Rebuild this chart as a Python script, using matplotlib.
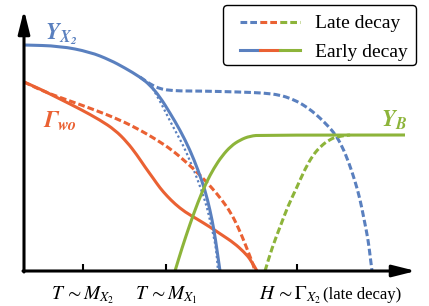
import matplotlib
matplotlib.use("Agg")
import matplotlib.pyplot as plt
from matplotlib.lines import Line2D
from matplotlib.path import Path
from matplotlib.patches import PathPatch, FancyBboxPatch
from matplotlib.transforms import IdentityTransform
from matplotlib.legend_handler import HandlerBase

plt.rcParams['mathtext.fontset'] = 'stix'
plt.rcParams['font.family'] = ['Liberation Serif', 'DejaVu Serif']

# ---- data (arbitrary schematic units: x = time/temperature axis, y = abundance) ----
blue_early_x = [0, 36, 66, 86, 101, 116, 126, 136, 146, 156, 166, 174, 181, 186, 190, 193, 196]
blue_early_y = [226, 225, 219, 211, 203, 194, 186, 174, 158, 141, 121, 101, 81, 61, 41, 21, 0]

blue_late_x = [116, 126, 134, 142, 156, 176, 216, 240, 256, 268, 278, 288, 296, 304, 311, 318, 325, 331, 336, 340, 344, 346, 348]
blue_late_y = [194, 187, 183, 181, 180, 180, 179, 178, 176, 172, 167, 160, 153, 145, 137, 125, 108, 90, 72, 52, 32, 16, 0]

blue_dot_x = [126, 132, 139, 146, 153, 160, 166, 171, 177, 183, 187, 191, 193, 194]
blue_dot_y = [187, 177, 164, 150, 137, 124, 110, 98, 82, 64, 46, 29, 14, 0]

orange_early_x = [0, 16, 36, 56, 76, 91, 103, 113, 121, 129, 136, 143, 151, 161, 173, 186, 198, 210, 220, 227, 233]
orange_early_y = [189, 182, 172, 162, 151, 141, 129, 116, 104, 93, 83, 75, 67, 59, 52, 44, 36, 28, 19, 11, 0]

orange_late_x = [0, 21, 46, 71, 96, 116, 133, 148, 162, 176, 188, 198, 207, 214, 220, 225, 229, 231]
orange_late_y = [189, 179, 170, 161, 151, 141, 131, 121, 109, 96, 83, 71, 58, 44, 30, 17, 7, 0]

green_early_x = [151, 158, 166, 174, 182, 190, 198, 207, 216, 226, 238, 381]
green_early_y = [0, 23, 47, 69, 88, 103, 115, 125, 131, 135, 136, 136]

green_late_x = [241, 248, 256, 264, 273, 281, 289, 297, 305, 314, 326]
green_late_y = [0, 23, 44, 65, 84, 102, 116, 125, 131, 135, 136]

tick_pos = [59, 142, 273]
tick_labels = [r'$T\,{\sim}M_{X_2}$', r'$T\,{\sim}M_{X_1}$', r'$H\,{\sim}\Gamma_{X_2}$']
legend_labels = ['Late decay', 'Early decay']

BLUE = '#5A80BF'
ORANGE = '#EA6133'
GREEN = '#8DB43A'
LW = 2.2
DASH = (2.2, 1.0)


def smooth_path(xs, ys):
    """Quadratic-Bezier path using the read points as control points."""
    pts = list(zip(xs, ys))
    verts = [pts[0]]
    codes = [Path.MOVETO]
    if len(pts) > 2:
        m = ((pts[0][0] + pts[1][0]) / 2, (pts[0][1] + pts[1][1]) / 2)
        verts.append(m)
        codes.append(Path.LINETO)
        for i in range(1, len(pts) - 1):
            nxt = pts[i + 1] if i + 1 == len(pts) - 1 else ((pts[i][0] + pts[i + 1][0]) / 2, (pts[i][1] + pts[i + 1][1]) / 2)
            verts += [pts[i], nxt]
            codes += [Path.CURVE3, Path.CURVE3]
    else:
        verts.append(pts[-1])
        codes.append(Path.LINETO)
    return Path(verts, codes)


def curve(ax, xs, ys, color, lw=LW, ls='-'):
    p = PathPatch(smooth_path(xs, ys), fill=False, edgecolor=color, lw=lw, linestyle=ls,
                  capstyle='butt', joinstyle='round', clip_on=False)
    ax.add_patch(p)


class TriHandler(HandlerBase):
    def __init__(self, lead=0.18):
        super().__init__()
        self.lead = lead

    def create_artists(self, legend, orig_handle, xdescent, ydescent, width, height, fontsize, trans):
        lead = self.lead * width
        seg = (width - lead) / len(orig_handle)
        y = height / 2 - ydescent
        arts = []
        for i, h in enumerate(orig_handle):
            x0 = -xdescent + lead + i * seg
            ln = Line2D([x0, x0 + seg], [y, y])
            ln.update_from(h)
            ln.set_transform(trans)
            arts.append(ln)
        return arts


fig = plt.figure(figsize=(4.29, 3.06), dpi=100)
ax = fig.add_axes([24 / 429, 35 / 306, 405 / 429, 271 / 306])
ax.set_xlim(0, 405)
ax.set_ylim(0, 271)
for s in ax.spines.values():
    s.set_visible(False)

# curves
curve(ax, blue_dot_x, blue_dot_y, BLUE, lw=1.6, ls=(0, (1, 1.2)))
curve(ax, orange_late_x, orange_late_y, ORANGE, ls=(0, DASH))
curve(ax, orange_early_x, orange_early_y, ORANGE)
curve(ax, blue_late_x, blue_late_y, BLUE, ls=(0, DASH))
curve(ax, blue_early_x, blue_early_y, BLUE)
curve(ax, green_late_x, green_late_y, GREEN, ls=(0, DASH))
curve(ax, green_early_x, green_early_y, GREEN)

# axes arrows
arrow = dict(arrowstyle='-|>,head_length=1.4,head_width=0.35', mutation_scale=10,
             lw=2.2, color='black', shrinkA=0, shrinkB=0)
ax.annotate('', xy=(392, 0), xytext=(-1, 0), arrowprops=arrow, annotation_clip=False)
ax.annotate('', xy=(0, 261), xytext=(0, -1), arrowprops=arrow, annotation_clip=False)

# ticks
ax.set_yticks([])
ax.set_xticks(tick_pos)
ax.set_xticklabels([])
ax.tick_params(axis='x', direction='in', length=5, width=1.5, color='black')
for t, lab in zip(tick_pos, tick_labels):
    ax.text(t - (7 if lab.startswith('$H') else 0), -28, lab, ha='center', va='baseline', fontsize=14)
ax.text(299, -28, '(late decay)', ha='left', va='baseline', fontsize=12)

# curve labels
ax.text(21, 232, r'$\mathbfit{Y_{X_2}}$', color=BLUE, fontsize=16.5, va='baseline')
ax.text(19, 143, r'$\mathbfit{\Gamma_{wo}}$', color=ORANGE, fontsize=16.5, va='baseline')
ax.text(357, 144, r'$\mathbfit{Y_{B}}$', color=GREEN, fontsize=16.5, va='baseline')

# legend with tri-coloured handles (frame drawn separately)
late = tuple(Line2D([], [], color=c, lw=LW, ls=(0, DASH)) for c in (BLUE, ORANGE, GREEN))
early = tuple(Line2D([], [], color=c, lw=LW) for c in (BLUE, ORANGE, GREEN))
leg = ax.legend([late, early], legend_labels, handler_map={tuple: TriHandler(0.114)},
                loc='upper right', bbox_to_anchor=((417 - 24) / 405, (271 - 5) / 271),
                borderaxespad=0, fontsize=14, handlelength=3.48, labelspacing=0.56,
                handletextpad=0.75, borderpad=0.5, frameon=False)
frame = FancyBboxPatch((223.5, 306 - 65.5), 193, 60, boxstyle='round,pad=0,rounding_size=4',
                       transform=IdentityTransform(), fc='white', ec='black', lw=1.0,
                       zorder=4.5, clip_on=False)
ax.add_artist(frame)

fig.savefig('out.png', dpi=100)
